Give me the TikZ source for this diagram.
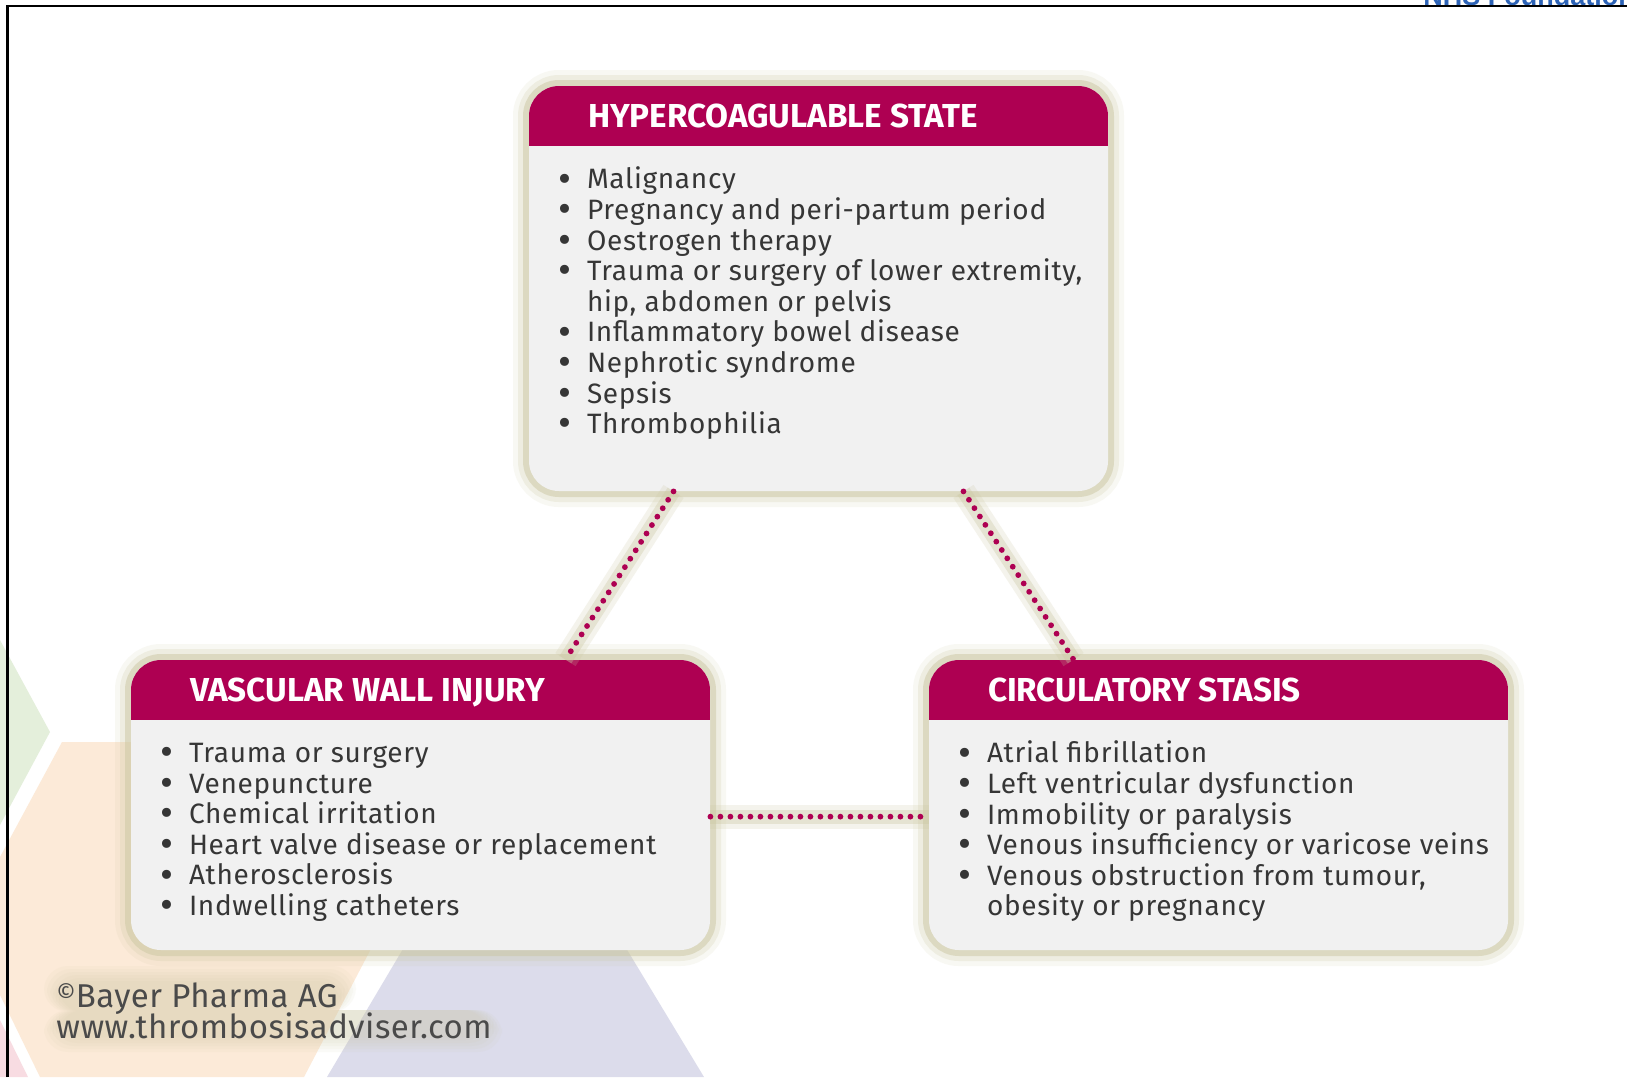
\documentclass[tikz,border=0pt]{standalone}
\usepackage{fontspec}
\setmainfont{Fira Sans}
\newfontfamily\nhsfont{Liberation Sans}
\usetikzlibrary{calc,positioning}

\definecolor{hdrred}{HTML}{AE0052}
\definecolor{boxgrey}{HTML}{F1F1F1}
\definecolor{glowc}{HTML}{CBC7A2}
\definecolor{txtgrey}{HTML}{363636}
\definecolor{hexgreen}{HTML}{E4EFDB}
\definecolor{hexpeach}{HTML}{FCEAD8}
\definecolor{hexlilac}{HTML}{DCDCEB}
\definecolor{hexpink}{HTML}{F8DCE2}
\definecolor{nhsblue}{HTML}{2D63B6}

\newlength{\bulw}\setlength{\bulw}{14.5pt}
\newcommand{\itm}{\strut\makebox[\bulw][l]{\raisebox{-1.6pt}[0pt][0pt]{\fontsize{20pt}{15pt}\selectfont\textbullet}}}
\newcommand{\cnt}{\strut\hspace*{\bulw}}
\newcommand{\evenlines}{\setlength{\lineskiplimit}{-5pt}}

\tikzset{
  box/.style={rectangle, rounded corners=15pt, inner sep=0pt, minimum width=289.5pt, fill=boxgrey,
    preaction={draw=glowc, line width=16pt, draw opacity=.12},
    preaction={draw=glowc, line width=11pt, draw opacity=.22},
    preaction={draw=glowc, line width=6pt, draw opacity=.5},
    path picture={\fill[hdrred, sharp corners] ([yshift=1pt]path picture bounding box.north west)
      rectangle ([yshift=-30pt]path picture bounding box.north east);}},
  title/.style={anchor=base west, inner sep=0pt, text=white,
    font=\fontsize{16.6pt}{18pt}\selectfont\bfseries},
  list/.style={anchor=north west, inner sep=0pt, align=left, text=txtgrey,
    font=\fontsize{14pt}{15.3pt}\selectfont\addfontfeatures{LetterSpace=2.5}\evenlines},
  dotline/.style={draw=hdrred, line width=2.9pt, line cap=round, dash pattern=on 0pt off 5pt,
    preaction={draw=glowc, line width=12pt, draw opacity=.2},
    preaction={draw=glowc, line width=7pt, draw opacity=.35}},
  credit/.style={anchor=north west, inner sep=0pt, align=left, text=txtgrey!90,
    font=\fontsize{16.5pt}{15.5pt}\selectfont\addfontfeatures{LetterSpace=1.5}\evenlines},
  nhs/.style={anchor=base west, inner sep=0pt, text=nhsblue,
    font=\nhsfont\bfseries\fontsize{13.5pt}{15pt}\selectfont}
}

\begin{document}
\begin{tikzpicture}[x=0.5pt,y=-0.5pt]
\useasboundingbox (0,0) rectangle (1627,1077);
\fill[white] (0,0) rectangle (1627,1077);

% hexagon pieces in the lower left corner
\fill[hexgreen] (0,640) -- (50,732) -- (0,825) -- cycle;
\fill[hexpeach] (62,742) -- (479,742) -- (304,1077) -- (40,1077) -- (0,995) -- (0,857) -- cycle;
\fill[hexpink] (0,1020) -- (28,1077) -- (0,1077) -- cycle;
\fill[hexlilac] (432,900) -- (597,900) -- (704,1077) -- (327,1077) -- cycle;

% frame
\node[nhs] (nhs) at (1423,5) {NHS Foundation};
\draw[line width=1.25pt] (7.5,1077) -- (7.5,6) -- (1627,6);

% the three boxes
\node[box, minimum height=202.5pt] (hyper) at (818.5,288.5) {};
\node[box, minimum height=145pt] (vascular) at (420.5,805) {};
\node[box, minimum height=145pt] (stasis) at (1218.5,805) {};

\node[title] (hyper-t) at ([shift={(59,42)}]hyper.north west) {HYPERCOAGULABLE STATE};
\node[title] (vascular-t) at ([shift={(59,42)}]vascular.north west) {VASCULAR WALL INJURY};
\node[title] (stasis-t) at ([shift={(59,42)}]stasis.north west) {CIRCULATORY STASIS};

\node[list] (hyper-l) at ([shift={(29,81)}]hyper.north west) {%
  \itm Malignancy\\
  \itm Pregnancy and peri-partum period\\
  \itm Oestrogen therapy\\
  \itm Trauma or surgery of lower extremity,\\
  \cnt hip, abdomen or pelvis\\
  \itm Inflammatory bowel disease\\
  \itm Nephrotic syndrome\\
  \itm Sepsis\\
  \itm Thrombophilia};

\node[list] (vascular-l) at ([shift={(29,81)}]vascular.north west) {%
  \itm Trauma or surgery\\
  \itm Venepuncture\\
  \itm Chemical irritation\\
  \itm Heart valve disease or replacement\\
  \itm Atherosclerosis\\
  \itm Indwelling catheters};

\node[list] (stasis-l) at ([shift={(29,81)}]stasis.north west) {%
  \itm Atrial fibrillation\\
  \itm Left ventricular dysfunction\\
  \itm Immobility or paralysis\\
  \itm Venous insufficiency or varicose veins\\
  \itm Venous obstruction from tumour,\\
  \cnt obesity or pregnancy};

% dotted links between the boxes
\draw[dotline] ($(hyper.south west)!.25!(hyper.south east)$) -- ($(vascular.north west)!.75!(vascular.north east)$);
\draw[dotline] ($(hyper.south west)!.75!(hyper.south east)$) -- ($(stasis.north west)!.25!(stasis.north east)$);
\draw[dotline] ($(vascular.north east)!.54!(vascular.south east)$) -- ($(stasis.north west)!.54!(stasis.south west)$);

% credit line with its soft halo
\foreach \g in {16,13,...,1}
  \fill[glowc, opacity=.08, rounded corners=12pt]
    (60-\g,982-\g) rectangle (340+\g,1012) (60-\g,1010) rectangle (486+\g,1036+\g);
\node[credit] (credit) at (56,982) {%
  \strut{\fontsize{12pt}{12pt}\selectfont\raisebox{3pt}{\textcopyright}}Bayer Pharma AG\\
  \strut www.thrombosisadviser.com};
\end{tikzpicture}
\end{document}
